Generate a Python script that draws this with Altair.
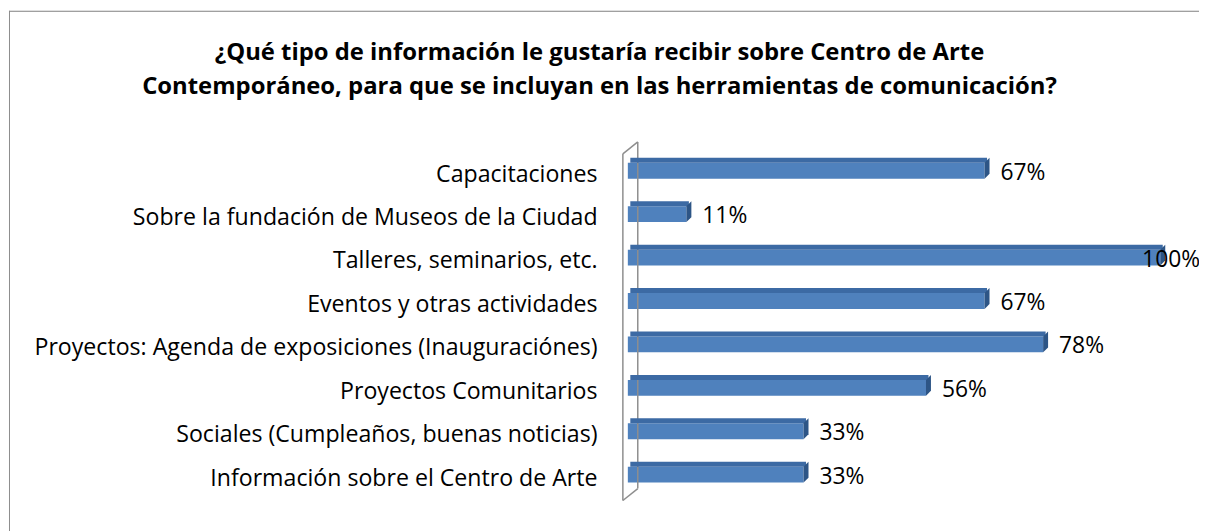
import altair as alt
import pandas as pd

title_lines = [
    "¿Qué tipo de información le gustaría recibir sobre Centro de Arte",
    "Contemporáneo, para que se incluyan en las herramientas de comunicación?",
]
categories = [
    "Capacitaciones",
    "Sobre la fundación de Museos de la Ciudad",
    "Talleres, seminarios, etc.",
    "Eventos y otras actividades",
    "Proyectos: Agenda de exposiciones (Inauguraciónes)",
    "Proyectos Comunitarios",
    "Sociales (Cumpleaños, buenas noticias)",
    "Información sobre el Centro de Arte",
]
values = [0.67, 0.11, 1.00, 0.67, 0.78, 0.56, 0.33, 0.33]

df = pd.DataFrame({"cat": categories, "v": values})
one = pd.DataFrame({"a": [0]})

FONT = "Open Sans"
FRONT = "#4F81BD"
TOP = "#3C6AA4"
SIDE = "#2D5586"
WALL = "#8E8E8E"
BORDER = "#8C8C8C"

W, H = 1198, 540

xs = alt.Scale(domain=[0, 1], range=[623, 1159], nice=False, zero=True)
ys = alt.Scale(domain=categories, range=[139.15, 488.85], paddingInner=0, paddingOuter=0)

yaxis = alt.Axis(title=None, ticks=False, tickSize=0, domain=False, grid=False,
                 labelPadding=0, offset=-592, labelFont=FONT, labelFontSize=23.3,
                 labelColor="#000000", labelLimit=0, labelOffset=4)
Y = alt.Y("cat:N", scale=ys, sort=categories, axis=yaxis)
X = alt.X("v:Q", scale=xs, axis=None)

base = alt.Chart(df)

# chart-area border (top and left edges are the ones inside the window)
border_top = alt.Chart(one).mark_rule(color=BORDER, strokeWidth=1).encode(
    x=alt.value(0), x2=alt.value(W), y=alt.value(0.5))
border_left = alt.Chart(one).mark_rule(color=BORDER, strokeWidth=1).encode(
    x=alt.value(0.5), y=alt.value(0), y2=alt.value(H))

# wall (drawn behind bars)
wall_left = alt.Chart(one).mark_rule(color=WALL, strokeWidth=1.5).encode(
    x=alt.value(618), y=alt.value(144), y2=alt.value(493))
wall_right = alt.Chart(one).mark_rule(color=WALL, strokeWidth=1.5).encode(
    x=alt.value(633), y=alt.value(132), y2=alt.value(481))
wall_top = alt.Chart(one).mark_rule(color=WALL, strokeWidth=1.5).encode(
    x=alt.value(618), y=alt.value(144), x2=alt.value(633), y2=alt.value(132))
wall_bot = alt.Chart(one).mark_rule(color=WALL, strokeWidth=1.5).encode(
    x=alt.value(618), y=alt.value(493), x2=alt.value(633), y2=alt.value(481))

front = base.mark_bar(size=16, color=FRONT).encode(x=X, y=Y)
top = base.mark_bar(size=5, color=TOP, yOffset=-10.5, xOffset=2.5, x2Offset=2.5).encode(x=X, y=Y)
side = base.mark_point(
    shape="M0,-0.8L0.5,-1.3L0.5,0.3L0,0.8Z", size=400, filled=True, opacity=1,
    color=SIDE, strokeWidth=0,
).encode(x=X, y=Y)
labels = base.transform_calculate(lx="min(datum.v, 0.936)").mark_text(
    align="left", baseline="middle", dx=16, dy=2, font=FONT, fontSize=23, color="#000000"
).encode(
    x=alt.X("lx:Q", scale=xs, axis=None),
    y=Y,
    text=alt.Text("v:Q", format=".0%"),
)

chart = alt.layer(front, border_top, border_left, wall_left, wall_right, wall_top, wall_bot,
                  top, side, labels).properties(
    width=W,
    height=H,
    padding={"left": 1, "top": 1, "right": 0, "bottom": 0},
    autosize=alt.AutoSizeParams(type="none"),
    title=alt.TitleParams(
        text=title_lines, font=FONT, fontSize=24, fontWeight="bold", color="#000000",
        anchor="middle", frame="group", baseline="alphabetic", lineHeight=34,
        offset=0, dy=108, dx=-4.5,
    ),
).configure_view(stroke=None).configure(background="white")

chart.save("out.html", embed_options={"renderer": "svg", "actions": False})
